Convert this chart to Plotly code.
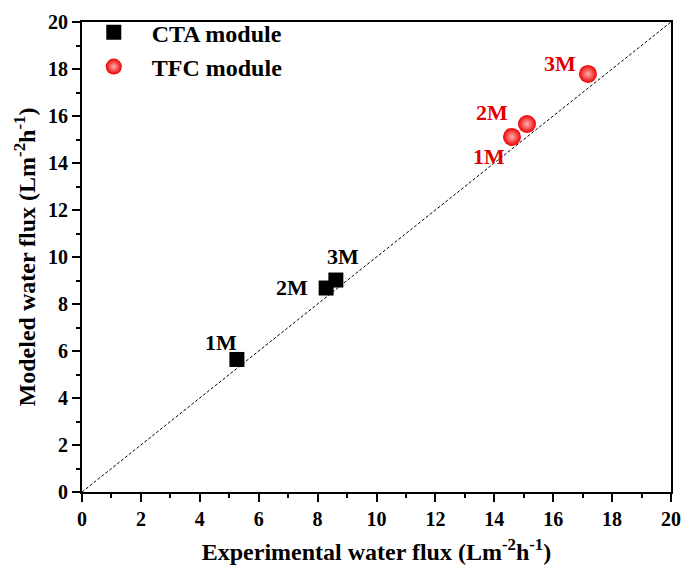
import plotly.graph_objects as go

# Measured vs. modeled water flux for the two membrane modules
cta_exp = [5.26, 8.29, 8.62]
cta_mod = [5.64, 8.68, 9.02]
cta_labels = ["1M", "2M", "3M"]

tfc_exp = [14.60, 15.11, 17.18]
tfc_mod = [15.11, 15.66, 17.79]
tfc_labels = ["1M", "2M", "3M"]

tick_vals = [0, 2, 4, 6, 8, 10, 12, 14, 16, 18, 20]
tick_text = [f"<b>{v}</b>" for v in tick_vals]

# label offsets (px) from each marker
cta_offsets = [(-16, 17), (-34, 1), (7, 24)]
tfc_offsets = [(-23, -20), (-35, 11), (-28, 10)]

parity = [0, 20]

FONT = "Liberation Serif, Times New Roman, serif"
NBSP = "\u00a0"

fig = go.Figure()

fig.add_trace(go.Scatter(
    x=parity, y=parity, mode="lines",
    line=dict(color="black", width=1, dash="3px,2px"),
    showlegend=False, hoverinfo="skip",
))

fig.add_trace(go.Scatter(
    x=cta_exp, y=cta_mod, mode="markers", name=NBSP * 3 + "<b>CTA module</b>",
    marker=dict(symbol="square", size=15, color="black"),
))

fig.add_trace(go.Scatter(
    x=tfc_exp, y=tfc_mod, mode="markers", name=NBSP * 3 + "<b>TFC module</b>",
    marker=dict(symbol="circle", size=18, color="#ee0000",
                gradient=dict(type="radial", color="#ffb0b0"),
                line=dict(width=0)),
))

annotations = []
for xs, ys, labs, offs, col in [
    (cta_exp, cta_mod, cta_labels, cta_offsets, "black"),
    (tfc_exp, tfc_mod, tfc_labels, tfc_offsets, "#e00000"),
]:
    for x, y, t, (dx, dy) in zip(xs, ys, labs, offs):
        annotations.append(dict(
            x=x, y=y, text=f"<b>{t}</b>", showarrow=False,
            xshift=dx, yshift=dy,
            font=dict(family=FONT, size=22, color=col),
        ))

axis_common = dict(
    range=[0, 20], showgrid=False, zeroline=False,
    tickmode="array", tickvals=tick_vals, ticktext=tick_text,
    showline=True, linecolor="black", linewidth=2, mirror=True,
    ticks="outside", ticklen=8, tickwidth=2, tickcolor="black",
    minor=dict(ticks="outside", ticklen=4, tickwidth=2, dtick=1, tickcolor="black"),
    tickfont=dict(family="Liberation Serif", size=20, color="black", weight="bold"),
    automargin=False,
)

fig.update_layout(
    width=681, height=573,
    margin=dict(l=82, r=10, t=13, b=81),
    paper_bgcolor="white", plot_bgcolor="white",
    xaxis=dict(**axis_common,
               title=dict(text="<b>Experimental water flux (Lm<sup>-2</sup>h<sup>-1</sup>)</b>",
                          font=dict(family=FONT, size=24, color="black"), standoff=14)),
    yaxis=dict(**axis_common,
               title=dict(text="<b>Modeled water flux (Lm<sup>-2</sup>h<sup>-1</sup>)</b>",
                          font=dict(family=FONT, size=24, color="black"), standoff=6)),
    legend=dict(x=0.02, y=1.025, xanchor="left", yanchor="top",
                bgcolor="rgba(0,0,0,0)",
                font=dict(family=FONT, size=24, color="black"),
                tracegroupgap=0, itemwidth=30),
    annotations=annotations,
)

fig.write_html("out.html")
